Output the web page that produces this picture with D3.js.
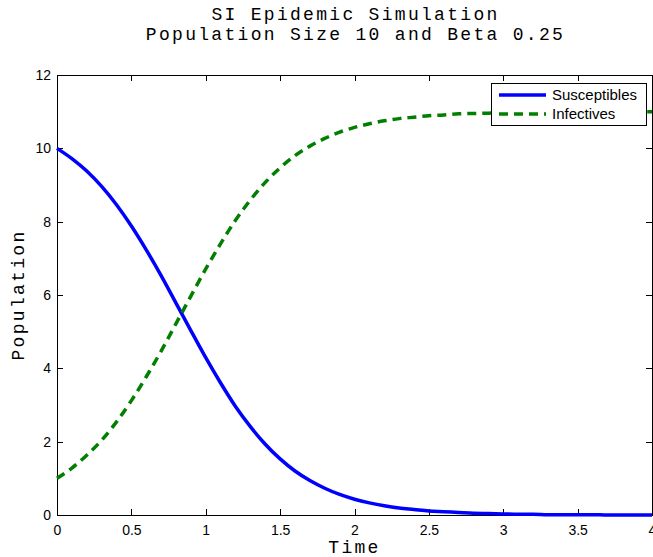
<!DOCTYPE html>
<html>
<meta charset="utf-8">
<style>
body {
  margin: 0;
  background: #fff;
}
.axis path,
.axis line {
  fill: none;
  stroke: #000;
  shape-rendering: crispEdges;
}
.axis text {
  font: 14px "Liberation Sans", Arial, sans-serif;
  fill: #000;
}
.mono {
  font-family: "Liberation Mono", "DejaVu Sans Mono", monospace;
  font-size: 18px;
  letter-spacing: 2.3px;
  fill: #000;
}
.legend text {
  font: 15px "Liberation Sans", Arial, sans-serif;
  fill: #000;
}
</style>
<body>
<script src="https://d3js.org/d3.v7.min.js"></script>
<script>
// values
var time = [0, 0.1, 0.2, 0.3, 0.4, 0.5, 0.6, 0.7, 0.8, 0.9,
            1.0, 1.1, 1.2, 1.3, 1.4, 1.5, 1.6, 1.7, 1.8, 1.9,
            2.0, 2.1, 2.2, 2.3, 2.4, 2.5, 2.6, 2.7, 2.8, 2.9,
            3.0, 3.1, 3.2, 3.3, 3.4, 3.5, 3.6, 3.7, 3.8, 3.9, 4.0];
var susceptibles = [10, 9.72, 9.38, 8.96, 8.46, 7.88, 7.23, 6.53, 5.78, 5.03,
                    4.29, 3.60, 2.96, 2.41, 1.93, 1.53, 1.20, 0.94, 0.73, 0.56,
                    0.43, 0.33, 0.25, 0.19, 0.15, 0.11, 0.09, 0.07, 0.05, 0.04,
                    0.03, 0.02, 0.02, 0.01, 0.01, 0.01, 0.01, 0.00, 0.00, 0.00, 0.00];
var infectives = [1, 1.28, 1.63, 2.04, 2.54, 3.12, 3.77, 4.47, 5.22, 5.97,
                  6.71, 7.40, 8.04, 8.59, 9.07, 9.47, 9.80, 10.06, 10.27, 10.44,
                  10.57, 10.67, 10.75, 10.81, 10.85, 10.89, 10.91, 10.94, 10.95, 10.96,
                  10.97, 10.98, 10.98, 10.99, 10.99, 10.99, 10.99, 11.00, 11.00, 11.00, 11.00];
var xTicks = [0, 0.5, 1, 1.5, 2, 2.5, 3, 3.5, 4];
var yTicks = [0, 2, 4, 6, 8, 10, 12];
var seriesNames = ["Susceptibles", "Infectives"];

var margin = {top: 75, right: 1, bottom: 42, left: 57},
    width = 653 - margin.left - margin.right,
    height = 557 - margin.top - margin.bottom;

var xScale = d3.scaleLinear().domain([0, 4]).range([0, width]),
    yScale = d3.scaleLinear().domain([0, 12]).range([height, 0]);

var svg = d3.select("body").append("svg")
    .attr("width", width + margin.left + margin.right)
    .attr("height", height + margin.top + margin.bottom);

var g = svg.append("g")
    .attr("transform", "translate(" + margin.left + "," + margin.top + ")");

// title
svg.append("text")
    .attr("class", "mono")
    .attr("x", margin.left + width / 2 + 1)
    .attr("y", 20)
    .style("text-anchor", "middle")
    .text("SI Epidemic Simulation");
svg.append("text")
    .attr("class", "mono")
    .attr("x", margin.left + width / 2 + 1)
    .attr("y", 40)
    .style("text-anchor", "middle")
    .text("Population Size 10 and Beta 0.25");

// axes, ticks pointing inwards on all four sides
g.append("g")
    .attr("class", "x axis")
    .attr("transform", "translate(0," + height + ")")
    .call(d3.axisBottom(xScale).tickValues(xTicks).tickSizeInner(-6).tickSizeOuter(0).tickPadding(10).tickFormat(d3.format("")));
g.append("g")
    .attr("class", "x axis")
    .call(d3.axisTop(xScale).tickValues(xTicks).tickSizeInner(-6).tickSizeOuter(0).tickFormat(""));
g.append("g")
    .attr("class", "y axis")
    .call(d3.axisLeft(yScale).tickValues(yTicks).tickSizeInner(-6).tickSizeOuter(0).tickPadding(6));
g.append("g")
    .attr("class", "y axis")
    .attr("transform", "translate(" + width + ",0)")
    .call(d3.axisRight(yScale).tickValues(yTicks).tickSizeInner(-6).tickSizeOuter(0).tickFormat(""));

// axis labels
svg.append("text")
    .attr("class", "mono")
    .attr("x", margin.left + width / 2)
    .attr("y", 553)
    .style("text-anchor", "middle")
    .text("Time");
svg.append("text")
    .attr("class", "mono")
    .attr("transform", "translate(24," + (margin.top + height / 2) + ") rotate(-90)")
    .style("text-anchor", "middle")
    .text("Population");

// lines
var line = d3.line()
    .x(function(d) { return xScale(d[0]); })
    .y(function(d) { return yScale(d[1]); })
    .curve(d3.curveMonotoneX);

g.append("path")
    .datum(d3.zip(time, susceptibles))
    .attr("d", line)
    .style("fill", "none")
    .style("stroke", "#0000ff")
    .style("stroke-width", 3.5);

g.append("path")
    .datum(d3.zip(time, infectives))
    .attr("d", line)
    .style("fill", "none")
    .style("stroke", "#007f00")
    .style("stroke-width", 3.5)
    .style("stroke-dasharray", "9,6");

// legend
var legend = svg.append("g")
    .attr("class", "legend")
    .attr("transform", "translate(491,83)");

legend.append("rect")
    .attr("width", 155)
    .attr("height", 42)
    .style("fill", "#fff")
    .style("stroke", "#000")
    .style("shape-rendering", "crispEdges");

var item = legend.selectAll(".item")
    .data(seriesNames)
  .enter().append("g")
    .attr("class", "item")
    .attr("transform", function(d, i) { return "translate(0," + (12 + i * 19) + ")"; });

item.append("line")
    .attr("x1", 8)
    .attr("x2", 55)
    .style("stroke", function(d, i) { return i == 0 ? "#0000ff" : "#007f00"; })
    .style("stroke-width", 3.5)
    .style("stroke-dasharray", function(d, i) { return i == 0 ? null : "9,6"; });

item.append("text")
    .attr("x", 61)
    .attr("dy", ".35em")
    .text(function(d) { return d; });
</script>
</body>
</html>
